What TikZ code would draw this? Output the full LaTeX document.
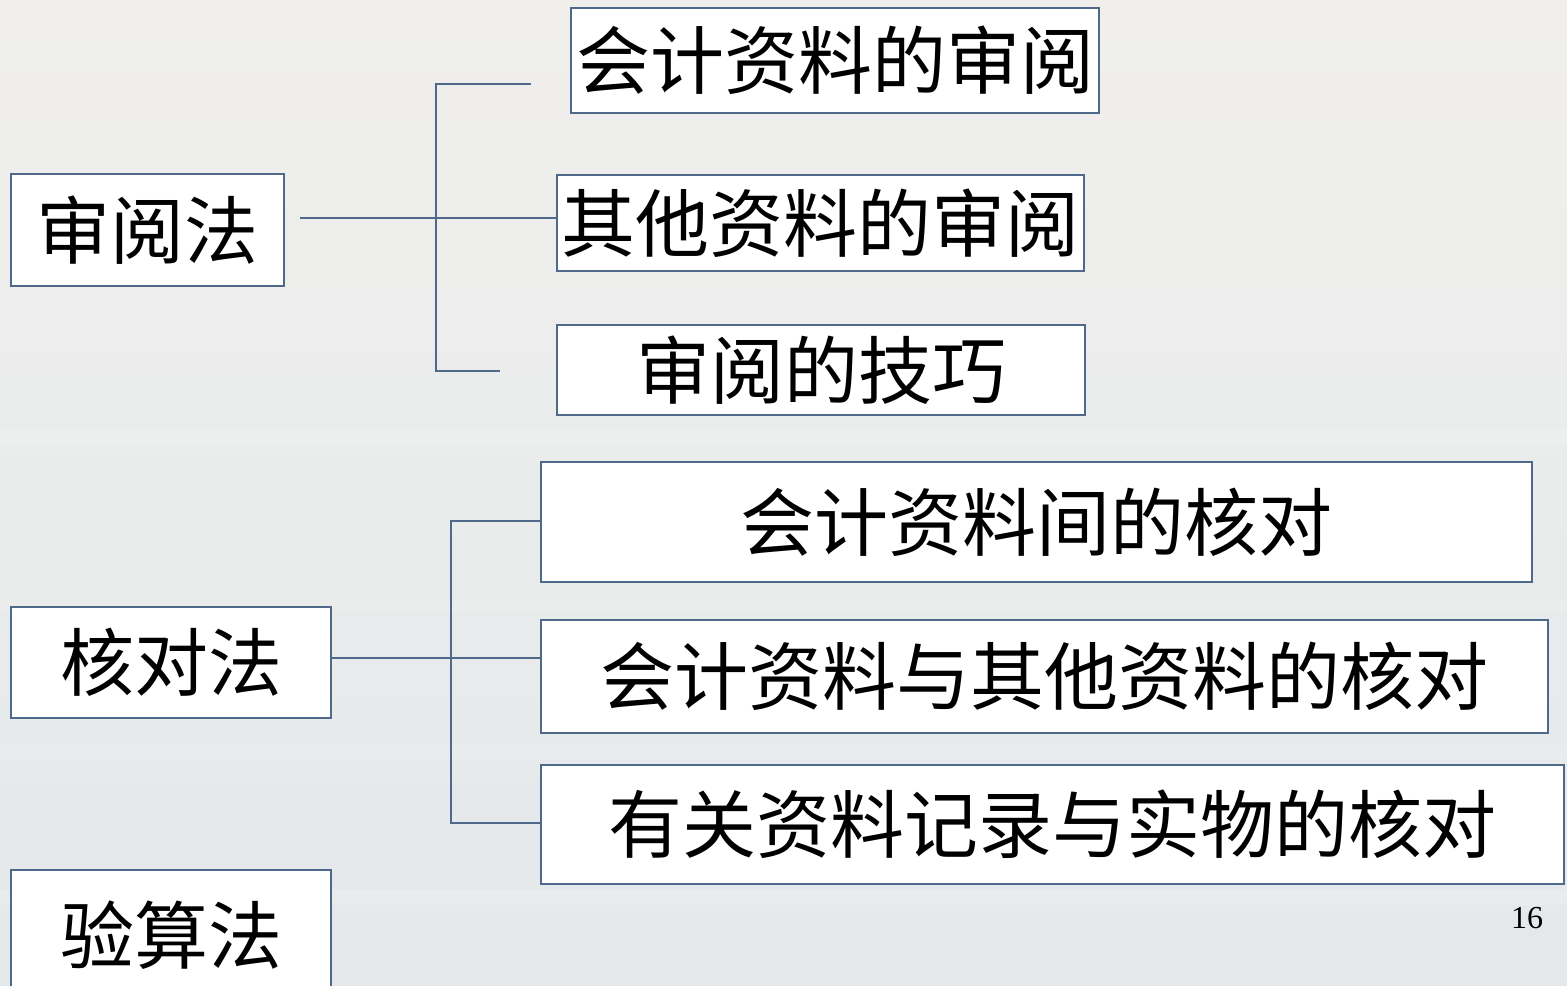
\documentclass[tikz,border=0pt]{standalone}
\usepackage{fontspec}
\setmainfont{Liberation Serif}
\newfontfamily\cjk{Noto Sans CJK SC}
\definecolor{edge}{RGB}{79,105,138}
\definecolor{bgtop}{RGB}{240,239,236}
\definecolor{bgbot}{RGB}{228,232,235}
\begin{document}
\begin{tikzpicture}[x=0.5pt,y=-0.5pt,
  box/.style={draw=edge, line width=1pt, fill=white, inner sep=0pt,
              font=\cjk\fontsize{37}{40}\selectfont},
  conn/.style={draw=edge, line width=1pt}]
\fill[top color=bgtop, bottom color=bgbot] (0,0) rectangle (1567,985);
\fill[white, opacity=0.15] (0,430) rectangle (1567,445);
\fill[white, opacity=0.12] (0,600) rectangle (1567,612);
\fill[white, opacity=0.12] (0,745) rectangle (1567,760);
\fill[white, opacity=0.15] (0,890) rectangle (1567,905);
\useasboundingbox (0,0) rectangle (1567,985);

% left column
\node[box, minimum width=136.5pt, minimum height=56pt] (shen) at (147.5,230) {审阅法};
\node[box, minimum width=160pt, minimum height=55.5pt] (hd) at (171,662.5) {核对法};
\node[box, minimum width=160pt, minimum height=65pt] (ys) at (171,935) {验算法};

% review branch
\node[box, minimum width=264pt, minimum height=52.5pt] (a1) at (835,60.5) {会计资料的审阅};
\node[box, minimum width=263.5pt, minimum height=48pt] (a2) at (820.5,223) {其他资料的审阅};
\node[box, minimum width=264pt, minimum height=45pt] (a3) at (821,370) {审阅的技巧};

% check branch
\node[box, minimum width=495.5pt, minimum height=60pt] (b1) at (1036.5,522) {会计资料间的核对};
\node[box, minimum width=503.5pt, minimum height=56.5pt] (b2) at (1044.5,676.5) {会计资料与其他资料的核对};
\node[box, minimum width=511.5pt, minimum height=59.5pt] (b3) at (1052.5,824.5) {有关资料记录与实物的核对};

\node[font=\fontsize{16}{18}\selectfont, inner sep=0pt] (pg) at (1527,918) {16};

% connectors of 审阅法
\coordinate (s0) at (300,218);
\coordinate (t1) at (436,84);
\coordinate (t1e) at (531,84);
\coordinate (t2) at (436,371);
\coordinate (t2e) at (500,371);
\draw[conn] (s0) -- (s0 -| a2.west);
\draw[conn] (t1e) -- (t1) -- (t2) -- (t2e);

% connectors of 核对法
\coordinate (h0) at (331,658);
\coordinate (v1) at (451,521);
\coordinate (v2) at (451,823);
\draw[conn] (h0) -- (h0 -| b2.west);
\draw[conn] (v1 -| b1.west) -- (v1) -- (v2) -- (v2 -| b3.west);
\end{tikzpicture}
\end{document}
